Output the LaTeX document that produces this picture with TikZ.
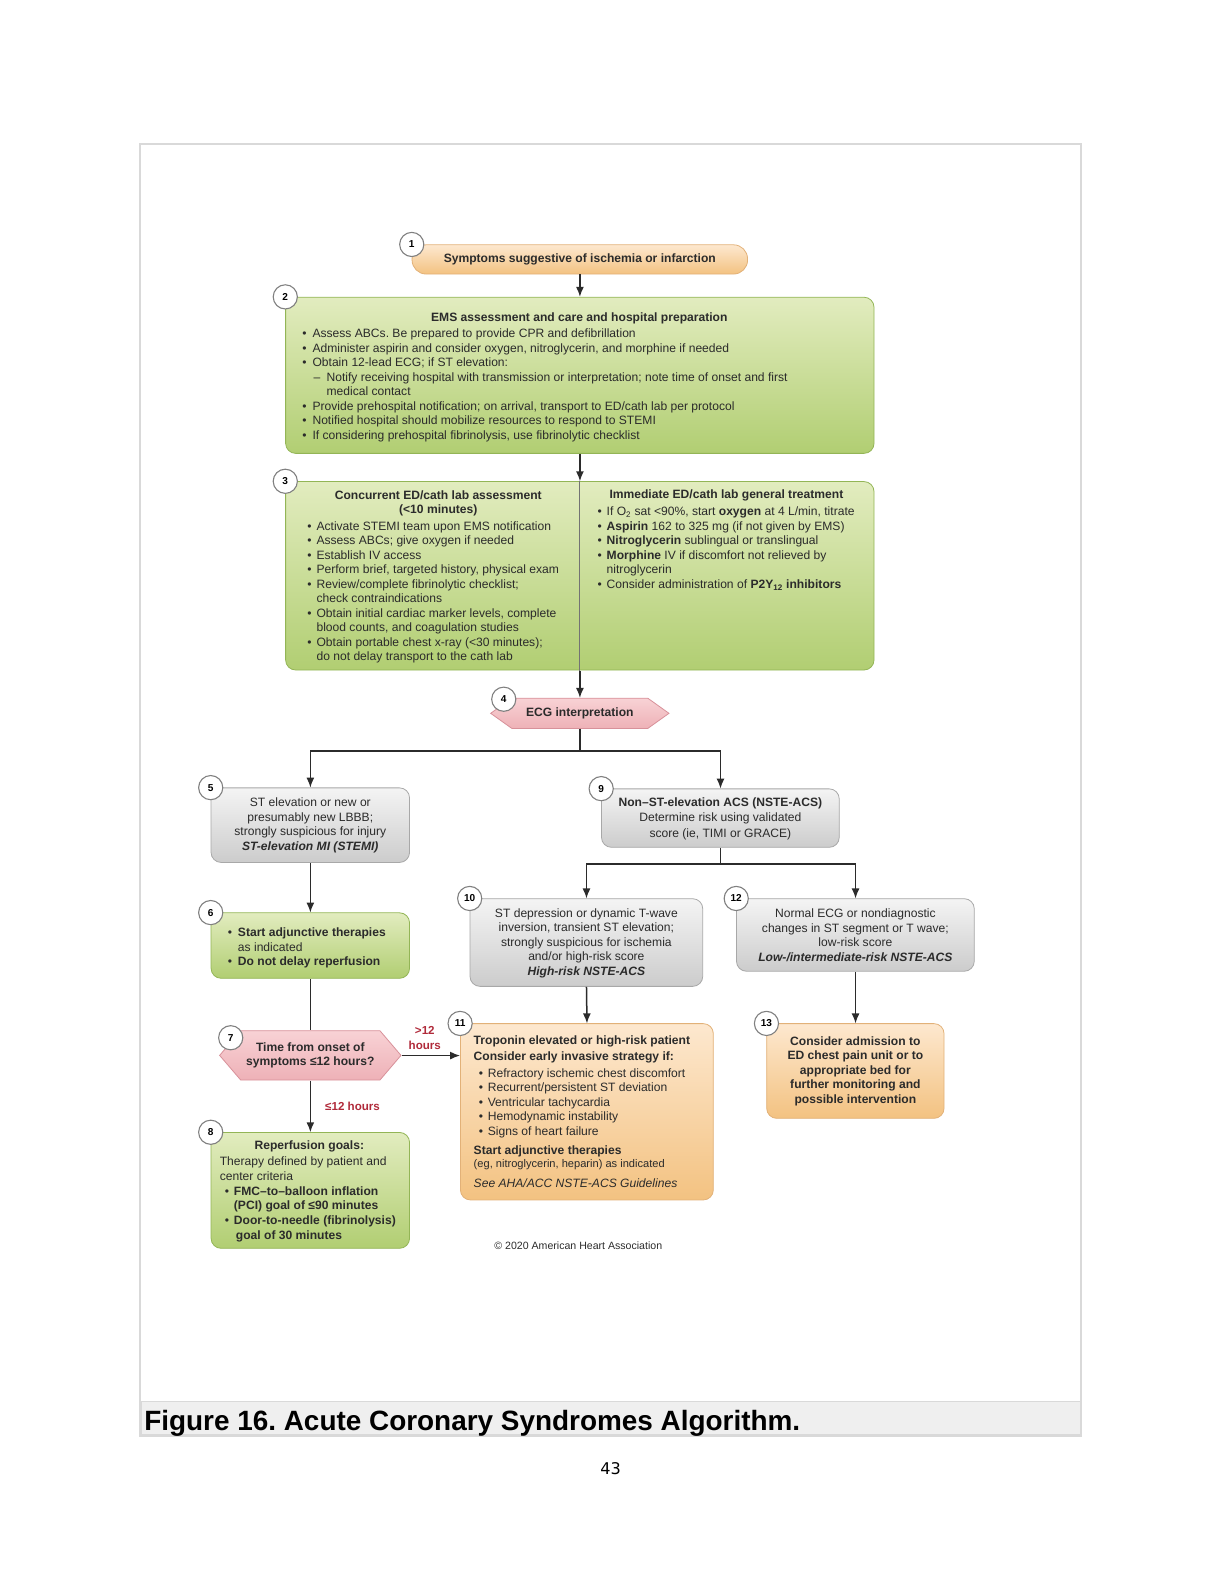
\documentclass[tikz,border=0pt]{standalone}
\usepackage{fontspec}
\setmainfont{Liberation Sans}
\newfontfamily\pagefont{DejaVu Sans}
\usepackage{tikz}
\usetikzlibrary{shapes.symbols,arrows.meta}
\definecolor{greentop}{HTML}{E2ECBF}
\definecolor{greenbot}{HTML}{B1CE72}
\definecolor{greenline}{HTML}{93B556}
\definecolor{graytop}{HTML}{F4F4F4}
\definecolor{graybot}{HTML}{CCCCCC}
\definecolor{grayline}{HTML}{A8A8A8}
\definecolor{orangetop}{HTML}{FDE8CF}
\definecolor{orangebot}{HTML}{F3C281}
\definecolor{orangeline}{HTML}{E2B178}
\definecolor{pinktop}{HTML}{F8D2D5}
\definecolor{pinkbot}{HTML}{EEB1B7}
\definecolor{pinkline}{HTML}{D8919A}
\definecolor{redtext}{HTML}{B02A3A}
\definecolor{framegray}{HTML}{D9D9D9}
\definecolor{capgray}{HTML}{EFEFEF}
\definecolor{inkgray}{HTML}{2B2B2B}
\frenchspacing
\newcommand{\bpt}{\makebox[10pt][l]{\textbullet}}
\newcommand{\bptn}{\makebox[9pt][l]{\textbullet}}
\tikzset{
    box/.style={draw, rounded corners=10pt, line width=0.8pt},
    greenbox/.style={box, draw=greenline, top color=greentop, bottom color=greenbot},
    graybox/.style={box, draw=grayline, top color=graytop, bottom color=graybot},
    orangebox/.style={box, draw=orangeline, top color=orangetop, bottom color=orangebot},
    pill/.style={box, draw=orangeline, top color=orangetop, bottom color=orangebot, rounded corners=14pt,
        font=\bfseries\fontsize{12}{14.4}\selectfont, text=inkgray},
    hexbox/.style={shape=signal, signal to=east and west, draw=pinkline, top color=pinktop, bottom color=pinkbot,
        line width=0.8pt, inner sep=0pt, align=center, text=inkgray, font=\bfseries\fontsize{12}{14.6}\selectfont},
    % number badges
    num/.style={circle, draw=black!50, fill=white, line width=1.1pt, minimum size=24pt, inner sep=0pt,
        font=\bfseries\fontsize{10}{10}\selectfont},
    % texts inside boxes (multi-line: anchored at the baseline of the last line)
    head/.style={anchor=base, inner sep=0pt, align=center, text=inkgray, font=\bfseries\fontsize{12}{14.4}\selectfont},
    mid/.style={anchor=base, inner sep=0pt, align=center, text=inkgray, font=\fontsize{12}{14.4}\selectfont},
    body/.style={anchor=base west, inner sep=0pt, align=left, text=inkgray, font=\fontsize{12}{14.4}\selectfont},
    conn/.style={line width=1.5pt, draw=inkgray},
    arrow/.style={conn, -{Latex[length=10pt, width=8pt]}},
    divider/.style={line width=1pt, draw=black!55},
    redlabel/.style={inner sep=0pt, align=center, text=redtext, font=\bfseries\fontsize{11.5}{15}\selectfont}
}
\begin{document}
\begin{tikzpicture}[x=1pt, y=-1pt]
    \useasboundingbox (0,0) rectangle (1220,1579);
    \begin{scope}[scale=1.0075, transform shape]
    % page frame and caption
    \draw[framegray, line width=2pt] (139,143) rectangle (1073,1425);
    \filldraw[fill=capgray, draw=framegray, line width=1pt] (140,1391) rectangle (1072,1424);
    \node[anchor=base west, inner sep=0pt, font=\bfseries\fontsize{27.7}{30}\selectfont] (cap) at (143,1420)
        {Figure 16. Acute Coronary Syndromes Algorithm.};
    \node[inner sep=0pt, font=\pagefont\fontsize{16}{18}\selectfont] (pg) at (606,1458) {43};

    % 1 - symptoms
    \node[pill, minimum width=333pt, minimum height=29pt] (n1) at (575.5,257.5)
        {Symptoms suggestive of ischemia or infarction};

    % 2 - EMS
    \node[greenbox, minimum width=584pt, minimum height=155pt] (n2) at (575.5,372.5) {};
    \node[head] (t2h) at (575,319) {EMS assessment and care and hospital preparation};
    \node[body] (t2) at (300,436) {%
        \bpt Assess ABCs. Be prepared to provide CPR and defibrillation\\
        \bpt Administer aspirin and consider oxygen, nitroglycerin, and morphine if needed\\
        \bpt Obtain 12-lead ECG; if ST elevation:\\
        \hspace*{11pt}\makebox[13pt][l]{--}Notify receiving hospital with transmission or interpretation; note time of onset and first\\
        \hspace*{24pt}medical contact\\
        \bpt Provide prehospital notification; on arrival, transport to ED/cath lab per protocol\\
        \bpt Notified hospital should mobilize resources to respond to STEMI\\
        \bpt If considering prehospital fibrinolysis, use fibrinolytic checklist};

    % 3 - ED/cath lab
    \node[greenbox, minimum width=584pt, minimum height=187pt] (n3) at (575.5,571.5) {};
    \node[head] (t3h) at (435,510) {Concurrent ED/cath lab assessment\\(<10 minutes)};
    \node[body] (t3a) at (305,656) {%
        \bptn Activate STEMI team upon EMS notification\\
        \bptn Assess ABCs; give oxygen if needed\\
        \bptn Establish IV access\\
        \bptn Perform brief, targeted history, physical exam\\
        \bptn Review/complete fibrinolytic checklist;\\
        \hspace*{9pt}check contraindications\\
        \bptn Obtain initial cardiac marker levels, complete\\
        \hspace*{9pt}blood counts, and coagulation studies\\
        \bptn Obtain portable chest x-ray (<30 minutes);\\
        \hspace*{9pt}do not delay transport to the cath lab};
    \node[head] (t3i) at (721,495) {Immediate ED/cath lab general treatment};
    \node[body] (t3b) at (593,584) {%
        \bptn If O\textsubscript{2} sat <90\%, start \textbf{oxygen} at 4 L/min, titrate\\
        \bptn \textbf{Aspirin} 162 to 325 mg (if not given by EMS)\\
        \bptn \textbf{Nitroglycerin} sublingual or translingual\\
        \bptn \textbf{Morphine} IV if discomfort not relieved by\\
        \hspace*{9pt}nitroglycerin\\
        \bptn Consider administration of \textbf{P2Y\textsubscript{12} inhibitors}};

    % 4 - ECG
    \node[hexbox, minimum width=177pt, minimum height=30pt, signal pointer angle=71] (n4) at (575.5,708)
        {ECG interpretation};

    % 5 - STEMI
    \node[graybox, minimum width=197pt, minimum height=74pt] (n5) at (308,819) {};
    \node[mid] (t5) at (308,844) {ST elevation or new or\\presumably new LBBB;\\strongly suspicious for injury\\
        \textbf{\textit{ST-elevation MI (STEMI)}}};

    % 6 - adjunctive therapies
    \node[greenbox, minimum width=197pt, minimum height=65pt] (n6) at (308,938.5) {};
    \node[body, font=\fontsize{12}{14}\selectfont] (t6) at (226,958) {%
        \bpt\textbf{Start adjunctive therapies}\\
        \hspace*{10pt}as indicated\\
        \bpt\textbf{Do not delay reperfusion}};

    % 7 - time from onset
    \node[hexbox, minimum width=180pt, minimum height=49pt, signal pointer angle=99] (n7) at (308,1047.5)
        {Time from onset of\\symptoms ≤12 hours?};

    % 8 - reperfusion goals
    \node[greenbox, minimum width=197pt, minimum height=115pt] (n8) at (308,1181.5) {};
    \node[head] (t8h) at (307,1141) {Reperfusion goals:};
    \node[body, font=\fontsize{12}{14.6}\selectfont] (t8) at (218,1230) {%
        Therapy defined by patient and\\
        center criteria\\
        \hspace*{5pt}\bptn\textbf{FMC–to–balloon inflation}\\
        \hspace*{14pt}\textbf{(PCI) goal of ≤90 minutes}\\
        \hspace*{5pt}\bptn\textbf{Door-to-needle (fibrinolysis)}\\
        \hspace*{16pt}\textbf{goal of 30 minutes}};

    % 9 - NSTE-ACS
    \node[graybox, minimum width=236pt, minimum height=58pt] (n9) at (715,812) {};
    \node[mid, font=\fontsize{12}{15.5}\selectfont] (t9) at (715,831) {\textbf{Non–ST-elevation ACS (NSTE-ACS)}\\
        Determine risk using validated\\score (ie, TIMI or GRACE)};

    % 10 - high risk
    \node[graybox, minimum width=231pt, minimum height=87pt] (n10) at (582,935.5) {};
    \node[mid] (t10) at (582,968) {ST depression or dynamic T-wave\\inversion, transient ST elevation;\\
        strongly suspicious for ischemia\\and/or high-risk score\\\textbf{\textit{High-risk NSTE-ACS}}};

    % 11 - troponin
    \node[orangebox, minimum width=251pt, minimum height=175pt] (n11) at (582.5,1103.5) {};
    \node[body] (t11a) at (470,1127) {%
        \textbf{Troponin elevated or high-risk patient}\\[1.6pt]
        \textbf{Consider early invasive strategy if:}\\[2.6pt]
        \hspace*{5pt}\bptn Refractory ischemic chest discomfort\\
        \hspace*{5pt}\bptn Recurrent/persistent ST deviation\\
        \hspace*{5pt}\bptn Ventricular tachycardia\\
        \hspace*{5pt}\bptn Hemodynamic instability\\
        \hspace*{5pt}\bptn Signs of heart failure};
    \node[body] (t11b) at (470,1146) {\textbf{Start adjunctive therapies}};
    \node[body, font=\fontsize{11}{13}\selectfont] (t11c) at (470,1159) {(eg, nitroglycerin, heparin) as indicated};
    \node[body] (t11d) at (470,1179) {\textit{See AHA/ACC NSTE-ACS Guidelines}};

    % 12 - low/intermediate risk
    \node[graybox, minimum width=236pt, minimum height=72pt] (n12) at (849,928) {};
    \node[mid] (t12) at (849,954) {Normal ECG or nondiagnostic\\changes in ST segment or T wave;\\
        low-risk score\\\textbf{\textit{Low-/intermediate-risk NSTE-ACS}}};

    % 13 - admission
    \node[orangebox, minimum width=176pt, minimum height=94pt] (n13) at (849,1063) {};
    \node[head] (t13) at (849,1095) {Consider admission to\\ED chest pain unit or to\\appropriate bed for\\
        further monitoring and\\possible intervention};

    % copyright
    \node[inner sep=0pt, text=inkgray, font=\fontsize{10.5}{12}\selectfont] (copy) at (574,1236)
        {© 2020 American Heart Association};

    % connectors
    \draw[arrow] (n1.south) -- (n2.north);
    \draw[arrow] (n2.south) -- (n3.north);
    \draw[divider] (n3.north) -- (n3.south);
    \draw[arrow] (n3.south) -- (n4.north);
    \draw[arrow] (n4.south) -- ++(0,22) -| (n5.north);
    \draw[arrow] (n4.south) -- ++(0,22) -| (n9.north);
    \draw[arrow] (n5.south) -- (n6.north);
    \draw[conn] (n6.south) -- (n7.north);
    \draw[arrow] (n7.south) -- node[redlabel, right=14pt] (l8) {≤12 hours} (n8.north);
    \draw[arrow] (n7.east) -- node[redlabel, above=5pt, xshift=-6pt] (l11) {>12\\hours} (n7.east -| n11.west);
    \draw[arrow] (n9.south) -- ++(0,16) -| (n10.north);
    \draw[arrow] (n9.south) -- ++(0,16) -| (n12.north);
    \draw[arrow] (n10.south) -- (n11.north);
    \draw[arrow] (n12.south) -- (n13.north);

    % number badges
    \node[num] (c1) at (n1.north west) {1};
    \node[num] (c2) at (n2.north west) {2};
    \node[num] (c3) at (n3.north west) {3};
    \node[num] (c4) at (500,694) {4};
    \node[num] (c5) at (n5.north west) {5};
    \node[num] (c6) at (n6.north west) {6};
    \node[num] (c7) at (229,1030) {7};
    \node[num] (c8) at (n8.north west) {8};
    \node[num] (c9) at (n9.north west) {9};
    \node[num] (c10) at (n10.north west) {10};
    \node[num] (c11) at (n11.north west) {11};
    \node[num] (c12) at (n12.north west) {12};
    \node[num] (c13) at (n13.north west) {13};
    \end{scope}
\end{tikzpicture}
\end{document}
